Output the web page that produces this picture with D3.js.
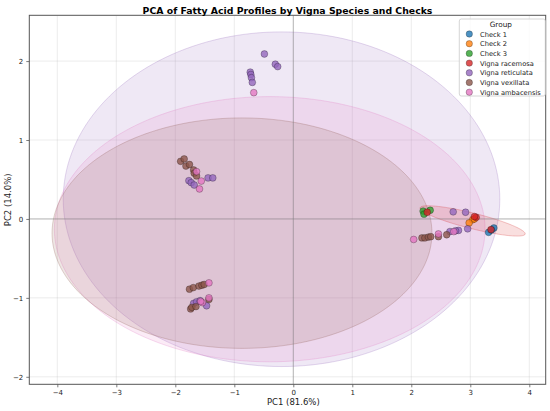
<!DOCTYPE html>
<html>
<head>
<meta charset="utf-8">
<script src="https://cdn.jsdelivr.net/npm/d3@7"></script>
<style>
  body { margin: 0; background: #fff; }
  svg { font-family: "DejaVu Sans", sans-serif; }
</style>
</head>
<body>
<svg id="graph" width="550" height="411"></svg>
<script>
// groups, in legend order
var groups = ["Check 1", "Check 2", "Check 3", "Vigna racemosa", "Vigna reticulata", "Vigna vexillata", "Vigna ambacensis"];
var colors = ["#1f77b4", "#ff7f0e", "#2ca02c", "#d62728", "#9467bd", "#8c564b", "#e377c2"];

// PC scores
var check1 = [[3.31, -0.17], [3.40, -0.115], [3.36, -0.14]];
var check2 = [[3.04, -0.01], [2.98, -0.05], [3.07, 0.0]];
var check3 = [[2.20, 0.10], [2.32, 0.11], [2.215, 0.06]];
var racemosa = [[2.27, 0.085], [3.10, 0.02], [3.35, -0.135], [3.07, 0.03]];
var reticulata = [
  [-0.49, 2.09], [-0.305, 1.96], [-0.265, 1.93], [-0.73, 1.86], [-0.72, 1.83], [-0.71, 1.79], [-0.695, 1.73],
  [-1.77, 0.485], [-1.73, 0.46], [-1.68, 0.43], [-1.445, 0.52], [-1.365, 0.52],
  [-1.69, -1.07], [-1.64, -1.05], [-1.58, -1.035], [-1.47, -1.10],
  [2.71, 0.09], [2.92, 0.085], [2.955, -0.125], [2.655, -0.16], [2.80, -0.145], [2.75, -0.15]
];
var vexillata = [
  [-1.91, 0.73], [-1.85, 0.76], [-1.82, 0.67], [-1.76, 0.69], [-1.69, 0.62], [-1.68, 0.58], [-1.64, 0.545],
  [-1.76, -0.89], [-1.695, -0.87], [-1.60, -0.85], [-1.55, -0.84], [-1.51, -0.83],
  [-1.74, -1.14], [-1.72, -1.12], [-1.65, -1.11], [-1.43, -1.02],
  [2.18, -0.24], [2.23, -0.24], [2.29, -0.23], [2.33, -0.225], [2.46, -0.225], [2.60, -0.20]
];
var ambacensis = [
  [-0.67, 1.60],
  [-1.64, 0.60], [-1.56, 0.48], [-1.59, 0.38],
  [-1.43, -0.81],
  [-1.54, -1.06], [-1.57, -1.045], [-1.43, -1.00],
  [2.04, -0.26], [2.46, -0.19], [2.72, -0.16]
];
var groupPoints = [check1, check2, check3, racemosa, reticulata, vexillata, ambacensis];

// confidence ellipses: group index, centre x, centre y, semi-axis a, semi-axis b, angle (deg)
var ellGroup = [4, 6, 5, 3];
var ellCx = [-0.20, -0.40, -0.87, 3.04];
var ellCy = [0.25, -0.13, -0.18, -0.025];
var ellA = [3.70, 3.65, 3.22, 0.905];
var ellB = [2.12, 1.68, 1.46, 0.10];
var ellAngle = [0, 0, 0, -10.5];

var xTicks = [-4, -3, -2, -1, 0, 1, 2, 3, 4];
var yTicks = [-2, -1, 0, 1, 2];

var svg = d3.select("#graph");
var margin = { top: 15.3, right: 4.3, bottom: 26.7, left: 29.3 };
var width = 550, height = 411;

var x = d3.scaleLinear().domain([-4.475, 4.278]).range([margin.left, width - margin.right]);
var y = d3.scaleLinear().domain([-2.095, 2.58]).range([height - margin.bottom, margin.top]);

// shrink a text node's font until it fits the width seen in the picture
function fitText(sel, size, w) {
  sel.attr("font-size", size);
  var len = sel.node().getComputedTextLength();
  if (len > 0) sel.attr("font-size", size * w / len);
  return sel;
}

svg.append("defs").append("clipPath").attr("id", "clip")
  .append("rect")
  .attr("x", margin.left).attr("y", margin.top)
  .attr("width", width - margin.left - margin.right)
  .attr("height", height - margin.top - margin.bottom);

// grid
var grid = svg.append("g").attr("clip-path", "url(#clip)");
grid.selectAll(".gx").data(xTicks).join("line")
  .attr("x1", d => x(d)).attr("x2", d => x(d))
  .attr("y1", margin.top).attr("y2", height - margin.bottom)
  .attr("stroke", "#b0b0b0").attr("stroke-opacity", 0.3).attr("stroke-width", 0.8);
grid.selectAll(".gy").data(yTicks).join("line")
  .attr("y1", d => y(d)).attr("y2", d => y(d))
  .attr("x1", margin.left).attr("x2", width - margin.right)
  .attr("stroke", "#b0b0b0").attr("stroke-opacity", 0.3).attr("stroke-width", 0.8);

// ellipses
var plot = svg.append("g").attr("clip-path", "url(#clip)");
var line = d3.line().x(d => x(d[0])).y(d => y(d[1])).curve(d3.curveLinearClosed);
ellGroup.forEach(function(g, i) {
  var th = ellAngle[i] * Math.PI / 180, pts = [];
  for (var k = 0; k < 180; k++) {
    var t = k / 180 * 2 * Math.PI;
    pts.push([
      ellCx[i] + ellA[i] * Math.cos(th) * Math.cos(t) - ellB[i] * Math.sin(th) * Math.sin(t),
      ellCy[i] + ellA[i] * Math.sin(th) * Math.cos(t) + ellB[i] * Math.cos(th) * Math.sin(t)
    ]);
  }
  plot.append("path")
    .attr("d", line(pts))
    .attr("fill", colors[g]).attr("fill-opacity", 0.15)
    .attr("stroke", colors[g]).attr("stroke-opacity", 0.25).attr("stroke-width", 1);
});

// zero lines
plot.append("line")
  .attr("x1", x(0)).attr("x2", x(0)).attr("y1", margin.top).attr("y2", height - margin.bottom)
  .attr("stroke", "#808080").attr("stroke-opacity", 0.5).attr("stroke-width", 1);
plot.append("line")
  .attr("y1", y(0)).attr("y2", y(0)).attr("x1", margin.left).attr("x2", width - margin.right)
  .attr("stroke", "#808080").attr("stroke-opacity", 0.5).attr("stroke-width", 1);

// points
groupPoints.forEach(function(pts, g) {
  plot.append("g").selectAll("circle").data(pts).join("circle")
    .attr("cx", d => x(d[0])).attr("cy", d => y(d[1])).attr("r", 3.4)
    .attr("fill", colors[g]).attr("fill-opacity", 0.8)
    .attr("stroke", "#000").attr("stroke-opacity", 0.5).attr("stroke-width", 0.5);
});

// axes
var xAxis = g => g
  .attr("transform", `translate(0,${height - margin.bottom})`)
  .call(d3.axisBottom(x).tickValues(xTicks).tickSize(3).tickPadding(3).tickFormat(d3.format("d")))
  .call(g => g.select(".domain").remove());
var yAxis = g => g
  .attr("transform", `translate(${margin.left},0)`)
  .call(d3.axisLeft(y).tickValues(yTicks).tickSize(3).tickPadding(3).tickFormat(d3.format("d")))
  .call(g => g.select(".domain").remove());
svg.append("g").call(xAxis);
svg.append("g").call(yAxis);
svg.selectAll(".tick text").attr("font-size", 7).attr("fill", "#222").attr("font-family", "DejaVu Sans");
svg.selectAll(".tick line").attr("stroke", "#444").attr("stroke-width", 0.7);

// frame
svg.append("rect")
  .attr("x", margin.left).attr("y", margin.top)
  .attr("width", width - margin.left - margin.right)
  .attr("height", height - margin.top - margin.bottom)
  .attr("fill", "none").attr("stroke", "#555").attr("stroke-width", 1);

// labels
fitText(svg.append("text")
  .attr("x", 287.5).attr("y", 13.5)
  .attr("text-anchor", "middle").attr("font-weight", "bold")
  .text("PCA of Fatty Acid Profiles by Vigna Species and Checks"), 10, 290);
svg.append("text")
  .attr("x", x(0)).attr("y", 405)
  .attr("text-anchor", "middle").attr("font-size", 8.5).attr("fill", "#222")
  .text("PC1 (81.6%)");
svg.append("text")
  .attr("transform", `translate(11,${(margin.top + height - margin.bottom) / 2}) rotate(-90)`)
  .attr("text-anchor", "middle").attr("font-size", 8.5).attr("fill", "#222")
  .text("PC2 (14.0%)");

// legend
var leg = svg.append("g").attr("transform", "translate(459.3,19)");
leg.append("rect")
  .attr("width", 86).attr("height", 77).attr("rx", 2)
  .attr("fill", "#fff").attr("fill-opacity", 0.8)
  .attr("stroke", "#ccc").attr("stroke-width", 0.8);
leg.append("text")
  .attr("x", 41.5).attr("y", 8)
  .attr("text-anchor", "middle").attr("font-size", 7.3).attr("fill", "#222")
  .text("Group");
var probe = fitText(leg.append("text").attr("opacity", 0).text(groups[6]), 7, 61);
var legSize = +probe.attr("font-size");
probe.remove();
groups.forEach(function(name, i) {
  var yy = 15 + i * 9.7;
  leg.append("circle")
    .attr("cx", 10).attr("cy", yy).attr("r", 3.2)
    .attr("fill", colors[i]).attr("fill-opacity", 0.8)
    .attr("stroke", "#000").attr("stroke-opacity", 0.5).attr("stroke-width", 0.5);
  leg.append("text")
    .attr("x", 20.7).attr("y", yy + 2.5)
    .attr("font-size", legSize).attr("fill", "#222")
    .text(name);
});
</script>
</body>
</html>
